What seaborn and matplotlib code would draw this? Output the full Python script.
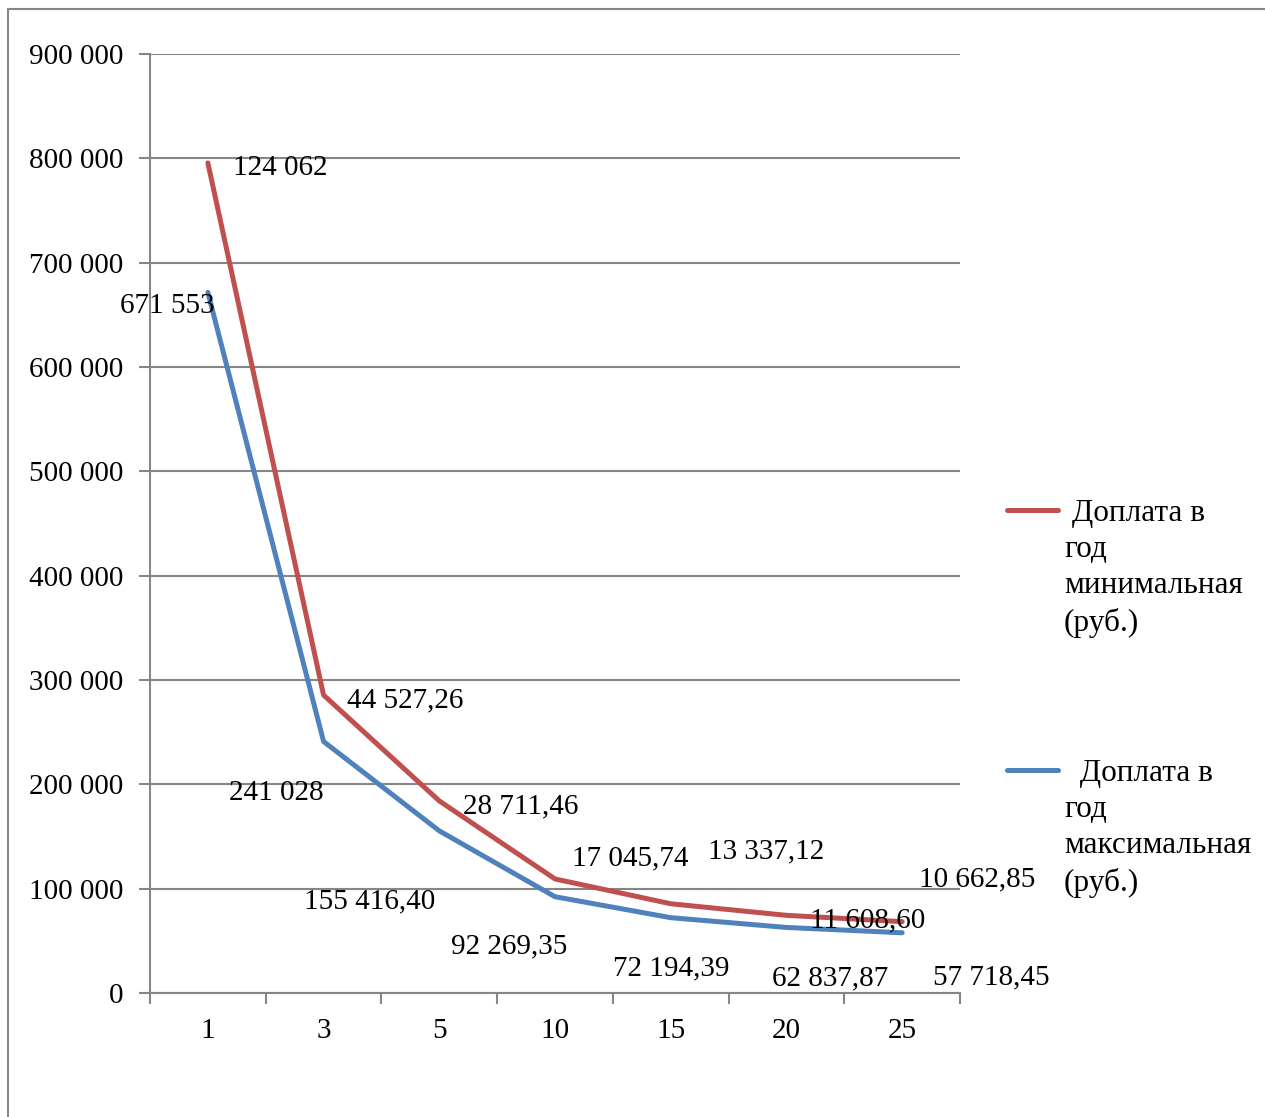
import numpy as np
import pandas as pd
import matplotlib
matplotlib.use("Agg")
import matplotlib.pyplot as plt
import seaborn as sns
from matplotlib.lines import Line2D
from matplotlib.patches import Rectangle
from matplotlib.ticker import FuncFormatter, FixedLocator

# ---- data ----
years = ["1", "3", "5", "10", "15", "20", "25"]
max_pay = [671553, 241028, 155416.40, 92269.35, 72194.39, 62837.87, 57718.45]
min_pay = [124062, 44527.26, 28711.46, 17045.74, 13337.12, 11608.60, 10662.85]
max_labels = ["671 553", "241 028", "155 416,40", "92 269,35", "72 194,39", "62 837,87", "57 718,45"]
min_labels = ["124 062", "44 527,26", "28 711,46", "17 045,74", "13 337,12", "11 608,60", "10 662,85"]
series_names = ["Доплата в год минимальная (руб.)", "Доплата в год максимальная (руб.)"]

# label offsets (pixels, baseline) — styling
min_off = [(72, -12), (82, -12), (81, -12), (75, 14), (95, 45), (81, -12), (75, 35)]
max_off = [(-41, -21), (-47, -58), (-70, -78), (-46, -57), (1, -58), (44, -58), (89, -52)]

sns.set_theme(style="white")
plt.rcParams["font.family"] = ["Liberation Serif", "DejaVu Serif"]

RED = "#C0504D"
BLUE = "#4F81BD"
GRID = "#868686"
FS = 21
LEG_FS = 22.5

W, H = 1265, 1117
fig = plt.figure(figsize=(W / 100, H / 100), dpi=100)
ax = fig.add_axes([150 / W, 1 - 993 / H, (960 - 150) / W, (993 - 54) / H])

# stacked line: minimal on top of maximal
stacked = [a + b for a, b in zip(max_pay, min_pay)]
df = pd.DataFrame({
    "year": years * 2,
    "value": list(stacked) + list(max_pay),
    "series": [series_names[0]] * len(years) + [series_names[1]] * len(years),
})
sns.lineplot(data=df, x="year", y="value", hue="series",
             palette=[RED, BLUE], linewidth=3.6, sort=False,
             legend=False, ax=ax, solid_capstyle="round")

ax.set_xlim(-0.5, len(years) - 0.5)
ax.set_ylim(0, 900000)
ax.set_yticks(np.arange(0, 900001, 100000))
ax.yaxis.set_major_formatter(FuncFormatter(lambda v, p: f"{int(v):,}".replace(",", " ")))
ax.set_xticks(range(len(years)))
ax.set_xticklabels(years)
ax.xaxis.set_minor_locator(FixedLocator(np.arange(-0.5, len(years), 1.0)))
ax.tick_params(axis="x", which="major", length=0, pad=18, labelsize=FS, colors="black")
ax.tick_params(axis="x", which="minor", length=8, width=1.5, color=GRID, direction="out", bottom=True)
ax.tick_params(axis="y", which="major", length=8, width=1.5, color=GRID, direction="out",
               pad=11, labelsize=FS, labelcolor="black", left=True)
ax.set_xlabel("")
ax.set_ylabel("")
ax.grid(axis="y", color=GRID, linewidth=1.5)
ax.grid(axis="x", visible=False)
ax.set_axisbelow(True)
for s in ["top", "right"]:
    ax.spines[s].set_visible(False)
for s in ["left", "bottom"]:
    ax.spines[s].set_color(GRID)
    ax.spines[s].set_linewidth(1.5)

# data labels
for i in range(len(years)):
    ax.annotate(min_labels[i], (i, stacked[i]), xytext=min_off[i], textcoords="offset pixels",
                ha="center", va="baseline", fontsize=FS, color="black", annotation_clip=False)
    ax.annotate(max_labels[i], (i, max_pay[i]), xytext=max_off[i], textcoords="offset pixels",
                ha="center", va="baseline", fontsize=FS, color="black", annotation_clip=False)

# legend (drawn manually to match layout)
leg_texts = [" Доплата в\nгод\nминимальная\n(руб.)", "  Доплата в\nгод\nмаксимальная\n(руб.)"]
leg_y = [510, 770]
for txt, col, y in zip(leg_texts, [RED, BLUE], leg_y):
    fig.add_artist(Line2D([1007 / W, 1058 / W], [1 - y / H, 1 - y / H], color=col,
                          linewidth=3.6, solid_capstyle="round"))
    # va='baseline' aligns the last line's baseline
    fig.text(1064 / W, 1 - (y + 13 + 3 * 36) / H, txt, fontsize=LEG_FS, va="baseline", ha="left",
             linespacing=1.33, color="black")

# outer border
fig.add_artist(Rectangle((8 / W, -0.05), 1.1, 1 - 9 / H + 0.05, transform=fig.transFigure,
                         fill=False, edgecolor=GRID, linewidth=1.5))

fig.savefig("out.png", dpi=100)
